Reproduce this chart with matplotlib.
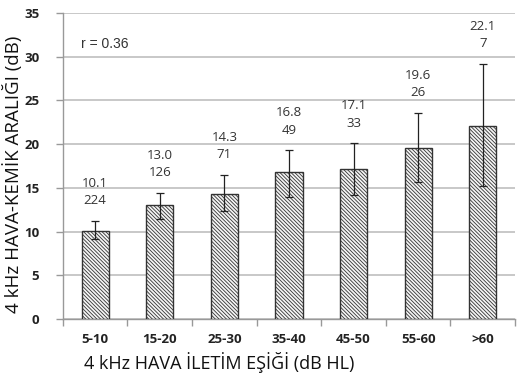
import matplotlib
matplotlib.use("Agg")
import matplotlib.pyplot as plt
import numpy as np

categories = ["5-10", "15-20", "25-30", "35-40", "45-50", "55-60", ">60"]
means = [10.1, 13.0, 14.3, 16.8, 17.1, 19.6, 22.1]
counts = [224, 126, 71, 49, 33, 26, 7]
err_low = [0.9, 1.6, 1.9, 2.8, 2.9, 3.9, 6.9]
err_high = [1.1, 1.4, 2.2, 2.5, 3.0, 4.0, 7.1]
yticks = [0, 5, 10, 15, 20, 25, 30, 35]

plt.rcParams['hatch.linewidth'] = 0.6
plt.rcParams['hatch.color'] = '#505050'

fig = plt.figure(figsize=(5.24, 3.80), dpi=100)
ax = fig.add_axes([0.120, 0.1605, 0.863, 0.8055])

x = np.arange(len(categories))
ax.bar(x, means, width=0.42, color='#f4f4f4', edgecolor='#333333', linewidth=1.0,
       hatch='\\' * 9, zorder=3)
ax.errorbar(x, means, yerr=[err_low, err_high], fmt='none', ecolor='#222222',
            elinewidth=0.9, capsize=3, capthick=0.9, zorder=4)

for xi, m, n, eh in zip(x, means, counts, err_high):
    top = m + eh
    ax.text(xi, top + 2.3, str(n), ha='center', va='center', fontsize=9.5,
            family='Open Sans', color='#333333')
    ax.text(xi, top + 4.3, f"{m:.1f}", ha='center', va='center', fontsize=9.5,
            family='Open Sans', color='#333333')

ax.set_xlim(-0.5, len(categories) - 0.5)
ax.set_ylim(0, 35)
ax.set_yticks(yticks)
ax.set_yticklabels([str(t) for t in yticks], fontsize=9.5, fontweight='bold',
                   family='Open Sans', color='#222222')
ax.set_xticks(x)
ax.set_xticklabels(categories, fontsize=9.5, fontweight='bold', family='Open Sans',
                   color='#222222')
ax.tick_params(axis='x', which='major', length=0, pad=10)
ax.set_xticks(np.arange(-0.5, len(categories)), minor=True)
ax.tick_params(axis='x', which='minor', length=5, color='#999999', width=1)
ax.tick_params(axis='y', length=5, color='#999999', width=1, pad=12)

ax.grid(axis='y', color='#bfbfbf', linewidth=1.2, zorder=0)
ax.set_axisbelow(True)
for s in ['top', 'right']:
    ax.spines[s].set_visible(False)
for s in ['left', 'bottom']:
    ax.spines[s].set_color('#999999')
    ax.spines[s].set_linewidth(1)

ax.text(-0.22, 31.5, "r = 0.36", ha='left', va='center', fontsize=10,
        family='Liberation Sans', color='#333333')

fig.text(0.160, 0.047, "4 kHz HAVA İLETİM EŞİĞİ (dB HL)", ha='left', va='center',
         fontsize=13, family='Open Sans', color='#111111')
fig.text(0.024, 0.54, "4 kHz HAVA-KEMİK ARALIĞI (dB)", ha='center', va='center',
         rotation=90, fontsize=13.5, family='Open Sans', color='#111111')

fig.savefig("out.png", dpi=100, facecolor='white')
